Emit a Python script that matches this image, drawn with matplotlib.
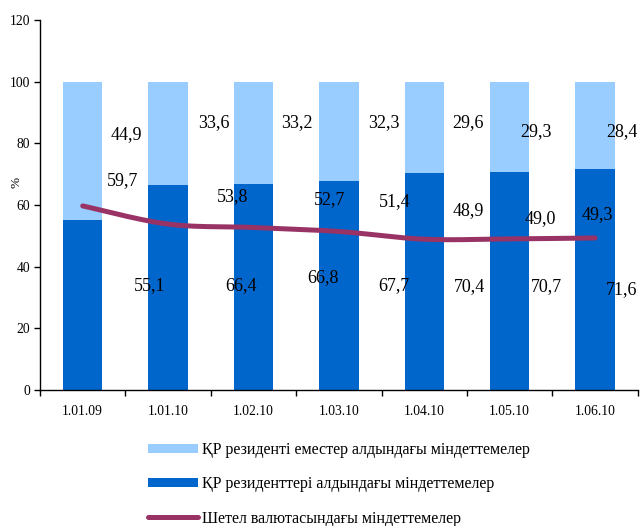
import matplotlib
matplotlib.use("Agg")
import matplotlib.pyplot as plt
import numpy as np
from matplotlib.patches import Patch
from matplotlib.lines import Line2D

categories = ["1.01.09", "1.01.10", "1.02.10", "1.03.10", "1.04.10", "1.05.10", "1.06.10"]
residents = [55.1, 66.4, 66.8, 67.7, 70.4, 70.7, 71.6]
non_residents = [44.9, 33.6, 33.2, 32.3, 29.6, 29.3, 28.4]
foreign_currency = [59.7, 53.8, 52.7, 51.4, 48.9, 49.0, 49.3]
yticks = [0, 20, 40, 60, 80, 100, 120]

lbl_nonres = "ҚР резиденті еместер алдындағы міндеттемелер"
lbl_res = "ҚР резиденттері алдындағы міндеттемелер"
lbl_fc = "Шетел валютасындағы міндеттемелер"

# label layout (offsets in category units / label heights in axis units)
top_dx = [0.51, 0.54, 0.51, 0.53, 0.51, 0.31, 0.31]
top_y = [82.7, 86.6, 86.6, 86.6, 86.8, 83.7, 83.7]
bot_dx = [0.78, 0.85, 0.81, 0.64, 0.53, 0.43, 0.31]
bot_y = [33.7, 33.7, 36.3, 34.0, 33.4, 33.4, 32.5]
line_dx = [0.47, 0.75, 0.89, 0.65, 0.51, 0.36, 0.03]
line_y = [68.0, 62.6, 61.6, 61.2, 58.2, 55.6, 56.9]

plt.rcParams['font.family'] = ['Liberation Serif', 'DejaVu Serif']

fig = plt.figure(figsize=(6.41, 5.26), dpi=100)
ax = fig.add_axes([0.0624, 0.2586, 0.9326, 0.7034])

x = np.arange(len(categories))
c_light = "#99CCFF"
c_dark = "#0066CC"
c_line = "#993366"
w = 0.46
ax.bar(x, residents, width=w, color=c_dark, zorder=2)
ax.bar(x, non_residents, width=w, bottom=residents, color=c_light, zorder=2)

# smoothed line (Catmull-Rom through the data points)
xs, ys = [], []
P = np.column_stack([x, foreign_currency]).astype(float)
Pp = np.vstack([P[0], P, P[-1]])
for i in range(1, len(Pp) - 2):
    p0, p1, p2, p3 = Pp[i - 1], Pp[i], Pp[i + 1], Pp[i + 2]
    t = np.linspace(0, 1, 30)[:, None]
    seg = 0.5 * ((2 * p1) + (-p0 + p2) * t + (2 * p0 - 5 * p1 + 4 * p2 - p3) * t ** 2
                 + (-p0 + 3 * p1 - 3 * p2 + p3) * t ** 3)
    xs.extend(seg[:, 0]); ys.extend(seg[:, 1])
ax.plot(xs, ys, color=c_line, lw=3.6, solid_capstyle='round', zorder=3)

fs = 13
for i in range(len(categories)):
    ax.text(i + top_dx[i], top_y[i], f"{non_residents[i]:.1f}".replace('.', ','),
            ha='center', va='center', fontsize=fs, zorder=4)
    ax.text(i + bot_dx[i], bot_y[i], f"{residents[i]:.1f}".replace('.', ','),
            ha='center', va='center', fontsize=fs, zorder=4)
    ax.text(i + line_dx[i], line_y[i], f"{foreign_currency[i]:.1f}".replace('.', ','),
            ha='center', va='center', fontsize=fs, zorder=4)

ax.set_xlim(-0.5, len(categories) - 0.5)
ax.set_ylim(0, 120)
ax.set_yticks(yticks)
ax.tick_params(axis='y', labelsize=9.8, direction='out', length=4, width=1, pad=3)
ax.set_xticks(np.arange(len(categories) + 1) - 0.5)
ax.set_xticklabels([])
ax.tick_params(axis='x', which='major', direction='out', length=4, width=1)
ax.set_xticks(x, minor=True)
ax.set_xticklabels(categories, minor=True)
ax.tick_params(axis='x', which='minor', length=0, labelsize=9.8, pad=11)
for s in ['top', 'right']:
    ax.spines[s].set_visible(False)
for s in ['left', 'bottom']:
    ax.spines[s].set_linewidth(1)
ax.set_ylabel("%", fontsize=9.5)
ax.yaxis.set_label_coords(-0.03, 0.56)

handles = [Patch(facecolor=c_light, edgecolor='none'),
           Patch(facecolor=c_dark, edgecolor='none'),
           Line2D([0], [0], color=c_line, lw=3.6, solid_capstyle='round')]
leg = fig.legend(handles, [lbl_nonres, lbl_res, lbl_fc], loc='upper left',
                 bbox_to_anchor=(0.231, 0.160), frameon=False, fontsize=11.5,
                 handlelength=3.1, handleheight=0.5, handletextpad=0.25,
                 labelspacing=1.15, borderaxespad=0, borderpad=0)

fig.savefig("out.png", dpi=100)
